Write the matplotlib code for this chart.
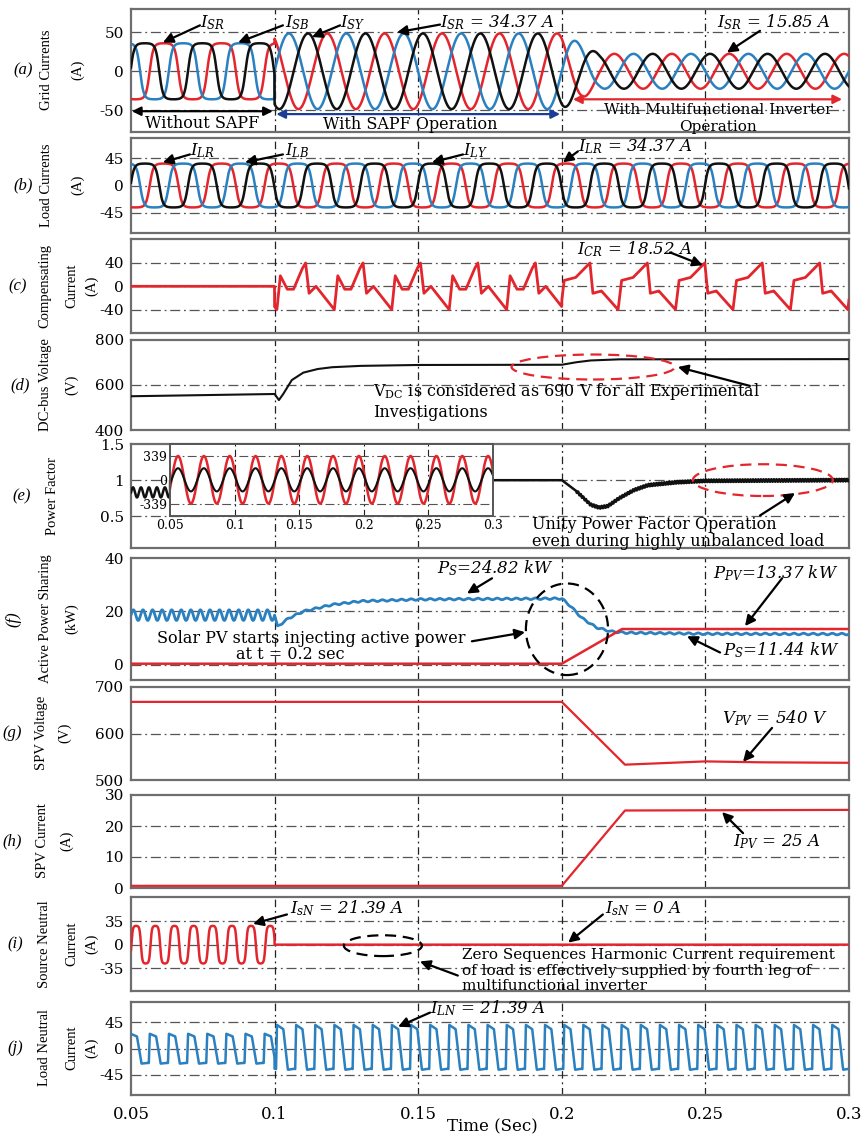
import numpy as np
import matplotlib
matplotlib.use('Agg')
import matplotlib.pyplot as plt
from matplotlib.patches import Ellipse

plt.rcParams['font.family'] = ['DejaVu Serif']
plt.rcParams['mathtext.fontset'] = 'custom'
plt.rcParams['mathtext.rm'] = 'DejaVu Serif'
plt.rcParams['mathtext.it'] = 'DejaVu Serif:italic'
plt.rcParams['mathtext.default'] = 'it'
plt.rcParams['axes.unicode_minus'] = False

RED = '#e3262d'
BLUE = '#2b80c0'
BLACK = '#111111'
NAVY = '#1c3d96'

# ---- data ----
t_start, t_end = 0.05, 0.3
f_grid = 50.0
x_ticks = [0.05, 0.1, 0.15, 0.2, 0.25, 0.3]
x_ticklabels = ['0.05', '0.1', '0.15', '0.2', '0.25', '0.3']
v_lines = [0.1, 0.15, 0.2, 0.25]

# (a), (b) phase currents
load_peak = 36.0
load_R_peak_time = 0.0615
grid_sapf_peak = 48.6          # 34.37 A rms
grid_R_peak_time = 0.1983
grid_env_t = [0.2, 0.213]
grid_env_v = [48.6, 22.4]      # 15.85 A rms after 0.2 s

# (c) compensating current, one-cycle templates
comp_t0_sapf = 0.1108
comp_frac_sapf = [0, 0.06, 0.18, 0.26, 0.5, 0.56, 0.68, 0.79, 0.94, 1.0]
comp_val_sapf = [40, -12, 0, -10, -40, 18, -5, -5, 30, 40]
comp_t0_inv = 0.2098
comp_frac_inv = [0, 0.05, 0.2, 0.49, 0.55, 0.75, 1.0]
comp_val_inv = [40, -12, -8, -40, 10, 15, 40]

# (d) DC-bus voltage
vdc_t = [0.05, 0.1, 0.1015, 0.103, 0.106, 0.11, 0.115, 0.12, 0.13, 0.15, 0.2, 0.205, 0.21, 0.22, 0.3]
vdc_v = [550, 560, 533, 560, 622, 655, 671, 679, 685, 689, 690, 701, 709, 714, 715]

# (e) power factor
pf_pre_level, pf_pre_ripple, pf_pre_freq = 0.83, 0.07, 360.0
pf_t = [0.05, 0.2, 0.205, 0.21, 0.213, 0.216, 0.22, 0.225, 0.23, 0.24, 0.25, 0.3]
pf_v = [1.0, 1.0, 0.85, 0.66, 0.62, 0.64, 0.75, 0.86, 0.93, 0.97, 0.99, 1.0]
pf_noise_amp = 0.018
inset_v_peak = 339.0
inset_i_peak = 165.0
inset_peak_time = 0.0562

# (f) active power sharing (kW)
ps_pre_level, ps_pre_ripple, ps_ripple_freq = 18.6, 2.0, 300.0
ps_t = [0.1, 0.101, 0.105, 0.11, 0.12, 0.13, 0.15, 0.2, 0.203, 0.207, 0.212, 0.217, 0.222, 0.25, 0.3]
ps_v = [18.6, 14.3, 17.5, 20.0, 22.5, 23.8, 24.5, 24.8, 22.0, 17.5, 14.0, 12.5, 12.0, 11.6, 11.5]
ppv_t = [0.05, 0.2, 0.221, 0.3]
ppv_v = [0.4, 0.4, 13.4, 13.4]

# (g) SPV voltage, (h) SPV current
vpv_t = [0.05, 0.2, 0.222, 0.25, 0.27, 0.3]
vpv_v = [668, 668, 533, 540, 538, 537]
ipv_t = [0.05, 0.2, 0.222, 0.3]
ipv_v = [0.7, 0.7, 25.0, 25.2]

# (i), (j) neutral currents
isn_peak, isn_peak_time = 28.0, 0.0518
iln_frac = [0, 0.05, 0.38, 0.62, 0.97, 1.0]
iln_val = [-0.92, 1.0, 0.82, -0.95, -0.9, -0.92]
iln_t0 = [0.0562, 0.1005]
iln_pos = [25.0, 40.0]
iln_neg = [27.0, 38.0]

# ---- signals ----
t = np.linspace(t_start, t_end, 6001)
w = 2 * np.pi * f_grid


def tile(tt, t0, period, frac, vals):
    return np.interp(((tt - t0) / period) % 1.0, frac, vals)


def flat(theta, k=2.5):
    return np.tanh(k * np.cos(theta)) / np.tanh(k)


th_L = w * (t - load_R_peak_time)
iL = {'R': load_peak * flat(th_L),
      'B': load_peak * flat(th_L - 2 * np.pi / 3),
      'Y': load_peak * flat(th_L - 4 * np.pi / 3)}

th_G = w * (t - grid_R_peak_time)
amp = np.where(t < 0.2, grid_sapf_peak, np.interp(t, grid_env_t, grid_env_v))
iS = {}
for k, sh in zip(['R', 'Y', 'B'], [0, 2 * np.pi / 3, 4 * np.pi / 3]):
    iS[k] = np.where(t < 0.1, iL[k], amp * np.cos(th_G + sh))

ic = np.where(t < 0.1, 0.0,
              np.where(t < 0.2, tile(t, comp_t0_sapf, 0.02, comp_frac_sapf, comp_val_sapf),
                       tile(t, comp_t0_inv, 0.02, comp_frac_inv, comp_val_inv)))

pf = np.where(t < 0.0636, pf_pre_level + pf_pre_ripple * np.sin(2 * np.pi * pf_pre_freq * t),
              np.interp(t, pf_t, pf_v))
pf = pf + np.where(t > 0.205, pf_noise_amp * np.sin(2 * np.pi * 1100 * t), 0)

ps = np.where(t < 0.1, ps_pre_level + ps_pre_ripple * np.sin(2 * np.pi * ps_ripple_freq * t),
              np.interp(t, ps_t, ps_v) + 0.3 * np.sin(2 * np.pi * ps_ripple_freq * t))

isn = np.where(t < 0.1, isn_peak * flat(3 * w * (t - isn_peak_time), 2.2), 0.0)

raw_j = np.where(t < 0.1, tile(t, iln_t0[0], 1 / 150, iln_frac, iln_val),
                 tile(t, iln_t0[1], 1 / 150, iln_frac, iln_val))
pos = np.where(t < 0.1, iln_pos[0], iln_pos[1])
neg = np.where(t < 0.1, iln_neg[0], iln_neg[1])
iln = np.where(raw_j > 0, raw_j * pos, raw_j * neg)

# ---- figure ----
FW, FH = 868, 1136
fig = plt.figure(figsize=(FW / 100, FH / 100), dpi=100)
fig.patch.set_facecolor('white')
L, R = 131, 849
NOTE_FS = 11.5
LBL_FS = 12


def panel(top, bottom, ylim, yticks, hgrid):
    ax = fig.add_axes([L / FW, 1 - bottom / FH, (R - L) / FW, (bottom - top) / FH])
    ax.set_xlim(t_start, t_end)
    ax.set_ylim(*ylim)
    ax.set_yticks(yticks)
    ax.set_yticklabels([f'{v:g}' for v in yticks])
    ax.set_xticks(x_ticks)
    ax.set_xticklabels([])
    ax.tick_params(length=0, labelsize=11, pad=5)
    for s in ax.spines.values():
        s.set_color('#6e6e6e')
        s.set_linewidth(1.6)
    for y in hgrid:
        ax.axhline(y, color='#555555', lw=0.9, ls=(0, (8, 3, 1.5, 3)), zorder=1)
    for x in v_lines:
        ax.axvline(x, color='#222222', lw=0.9, ls=(0, (6, 3, 1.5, 3)), zorder=1)
    return ax


def note(ax, text, pos, tail, head, fs=LBL_FS, style='italic'):
    ax.text(pos[0], pos[1], text, fontsize=fs, ha='left', va='center', style=style, zorder=8)
    ax.annotate('', xy=head, xytext=tail,
                arrowprops=dict(arrowstyle='-|>', color='k', lw=1.6, mutation_scale=15,
                                shrinkA=0, shrinkB=0), zorder=8)


def arrow(ax, tail, head):
    ax.annotate('', xy=head, xytext=tail,
                arrowprops=dict(arrowstyle='-|>', color='k', lw=1.6, mutation_scale=15,
                                shrinkA=0, shrinkB=0), zorder=8)


def ylab(center, letter, lx, lines, rot_letter=False):
    yc = 1 - center / FH
    fig.text(lx / FW, yc, letter, fontsize=12, style='italic', ha='center', va='center',
             rotation=90 if rot_letter else 0, family='Liberation Serif')
    for txt, x in lines:
        fig.text(x / FW, yc, txt, fontsize=10.5, ha='center', va='center', rotation=90,
                 family='Liberation Serif')


# (a) grid currents
ax = panel(9, 132, (-78, 80), [-50, 0, 50], [-50, 0, 50])
ax.plot(t, iS['R'], color=RED, lw=1.8, zorder=3)
ax.plot(t, iS['B'], color=BLUE, lw=1.8, zorder=3)
ax.plot(t, iS['Y'], color=BLACK, lw=1.8, zorder=4)
note(ax, r'$I_{SR}$', (0.074, 63), (0.074, 59), (0.0611, 37))
note(ax, r'$I_{SB}$', (0.1035, 63), (0.1029, 59), (0.0873, 37))
note(ax, r'$I_{SY}$', (0.1228, 63), (0.1228, 59), (0.1130, 44))
note(ax, r'$I_{SR}$ = 34.37 A', (0.1576, 63), (0.1576, 60), (0.1426, 50))
note(ax, r'$I_{SR}$ = 15.85 A', (0.254, 63), (0.269, 52), (0.2575, 24))
arr = dict(arrowstyle='<|-|>', lw=1.6, mutation_scale=13, shrinkA=0, shrinkB=0)
ax.annotate('', xy=(0.0503, -51.3), xytext=(0.0994, -51.3), arrowprops=dict(color='k', **arr))
ax.annotate('', xy=(0.1006, -55), xytext=(0.1994, -55), arrowprops=dict(color=NAVY, **arr))
ax.annotate('', xy=(0.2039, -36), xytext=(0.2976, -36), arrowprops=dict(color=RED, **arr))
ax.text(0.0747, -67, 'Without SAPF', fontsize=NOTE_FS, ha='center', va='center')
ax.text(0.1471, -69, 'With SAPF Operation', fontsize=NOTE_FS, ha='center', va='center')
ax.text(0.2544, -49.5, 'With Multifunctional Inverter', fontsize=11, ha='center', va='center')
ax.text(0.2544, -71, 'Operation', fontsize=11, ha='center', va='center')
ylab(70, '(a)', 23, [('Grid Currents', 47), ('(A)', 78)])

# (b) load currents
ax = panel(138, 233, (-78, 78), [-45, 0, 45], [-45, 0, 45])
ax.plot(t, iL['R'], color=RED, lw=1.8, zorder=3)
ax.plot(t, iL['B'], color=BLUE, lw=1.8, zorder=3)
ax.plot(t, iL['Y'], color=BLACK, lw=1.8, zorder=4)
note(ax, r'$I_{LR}$', (0.0705, 57), (0.0705, 51), (0.0611, 38))
note(ax, r'$I_{LB}$', (0.1035, 57), (0.1029, 51), (0.0897, 38))
note(ax, r'$I_{LY}$', (0.1656, 57), (0.1656, 51), (0.1548, 38))
note(ax, r'$I_{LR}$ = 34.37 A', (0.2056, 64), (0.2056, 56), (0.2004, 38))
ylab(185, '(b)', 23, [('Load Currents', 47), ('(A)', 78)])

# (c) compensating current
ax = panel(239, 333, (-80, 81), [-40, 0, 40], [-40, 0, 40])
ax.plot(t, ic, color=RED, lw=2.0, zorder=3)
note(ax, r'$I_{CR}$ = 18.52 A', (0.2053, 64), (0.2377, 58), (0.2491, 36))
ylab(286, '(c)', 18, [('Compensating', 45), ('Current', 72), ('(A)', 92)])

# (d) DC-bus voltage
ax = panel(340, 430, (400, 800), [400, 600, 800], [600])
ax.plot(vdc_t, vdc_v, color=BLACK, lw=1.5, zorder=3)
ax.add_patch(Ellipse((0.2109, 680), 0.0568, 111, fill=False, ls=(0, (5, 3)), ec=RED, lw=1.6, zorder=5))
arrow(ax, (0.2655, 596), (0.2404, 680))
ax.text(0.1343, 569, r'V$_{\mathrm{DC}}$ is considered as 690 V for all Experimental',
        fontsize=NOTE_FS, va='center')
ax.text(0.1343, 476, 'Investigations', fontsize=NOTE_FS, va='center')
ylab(385, '(d)', 20, [('DC-bus Voltage', 45), ('(V)', 72)])

# (e) power factor
ax = panel(444, 548, (0.06, 1.5), [0.5, 1, 1.5], [0.5, 1])
ax.plot(t, pf, color=BLACK, lw=1.8, zorder=3)
ax.add_patch(Ellipse((0.27, 1.0), 0.0487, 0.44, fill=False, ls=(0, (5, 3)), ec=RED, lw=1.6, zorder=5))
arrow(ax, (0.269, 0.51), (0.2812, 0.82))
ax.text(0.1896, 0.39, 'Unity Power Factor Operation', fontsize=NOTE_FS, va='center')
ax.text(0.1896, 0.155, 'even during highly unbalanced load', fontsize=NOTE_FS, va='center')
ylab(496, '(e)', 22, [('Power Factor', 52)])

ins = fig.add_axes([170 / FW, 1 - 516 / FH, 323 / FW, 72 / FH])
ins.set_xlim(t_start, t_end)
ins.set_ylim(-515, 510)
ins.set_yticks([-339, 0, 339])
ins.set_yticklabels(['-339', '0', '339'])
ins.set_xticks(x_ticks)
ins.set_xticklabels(x_ticklabels)
ins.tick_params(length=0, labelsize=9, pad=2)
for s in ins.spines.values():
    s.set_color('#555555')
    s.set_linewidth(1.4)
for y in [-339, 339]:
    ins.axhline(y, color='#555555', lw=0.8, ls=(0, (8, 3, 1.5, 3)))
for x in v_lines:
    ins.axvline(x, color='#222222', lw=0.8, ls=(0, (6, 3, 1.5, 3)))
th_i = w * (t - inset_peak_time)
ins.plot(t, inset_v_peak * np.cos(th_i), color=RED, lw=1.8)
ins.plot(t, inset_i_peak * np.cos(th_i), color=BLACK, lw=1.5)

# (f) active power sharing
ax = panel(558, 680, (-5.7, 40), [0, 20, 40], [0, 20])
ax.plot(t, ps, color=BLUE, lw=2.0, zorder=3)
ax.plot(ppv_t, ppv_v, color=RED, lw=1.8, zorder=4)
note(ax, r'$P_{S}$=24.82 kW', (0.1565, 36.2), (0.1757, 32.4), (0.167, 26.7))
note(ax, r'$P_{PV}$=13.37 kW', (0.2527, 34.3), (0.2767, 32.4), (0.2638, 14.5))
note(ax, r'$P_{S}$=11.44 kW', (0.2561, 5.4), (0.2551, 4.6), (0.2436, 10.7))
ax.add_patch(Ellipse((0.2018, 13.3), 0.0286, 34.3, fill=False, ls=(0, (5, 3)), ec='k', lw=1.6, zorder=5))
arrow(ax, (0.1687, 8.8), (0.1872, 12.2))
ax.text(0.059, 9.9, 'Solar PV starts injecting active power', fontsize=NOTE_FS, va='center')
ax.text(0.1054, 3.8, 'at t = 0.2 sec', fontsize=NOTE_FS, va='center', ha='center')
ylab(619, '(f)', 13, [('Active Power Sharing', 45), ('(kW)', 72)], rot_letter=True)

# (g) SPV voltage
ax = panel(687, 780, (500, 700), [500, 600, 700], [600])
ax.plot(vpv_t, vpv_v, color=RED, lw=1.6, zorder=3)
note(ax, r'$V_{PV}$ = 540 V', (0.2558, 633), (0.2732, 612), (0.2631, 539))
ylab(733, '(g)', 12, [('SPV Voltage', 42), ('(V)', 65)])

# (h) SPV current
ax = panel(795, 888, (0, 30), [0, 10, 20, 30], [10, 20])
ax.plot(ipv_t, ipv_v, color=RED, lw=1.6, zorder=3)
note(ax, r'$I_{PV}$ = 25 A', (0.2596, 14.8), (0.2631, 17.7), (0.2558, 24.5))
ylab(841, '(h)', 12, [('SPV Current', 43), ('(A)', 67)])

# (i) source neutral current
ax = panel(897, 991, (-69, 71), [-35, 0, 35], [-35, 0, 35])
ax.plot(t, isn, color=RED, lw=1.8, zorder=3)
note(ax, r'$I_{sN}$ = 21.39 A', (0.1054, 55), (0.1043, 45), (0.0925, 31))
note(ax, r'$I_{sN}$ = 0 A', (0.215, 53), (0.2143, 45), (0.2022, 3))
ax.add_patch(Ellipse((0.1377, -1.5), 0.0272, 31, fill=False, ls=(0, (5, 3)), ec='k', lw=1.6, zorder=5))
arrow(ax, (0.1638, -46), (0.1506, -25))
ax.text(0.1652, -15, 'Zero Sequences Harmonic Current requirement', fontsize=11, va='center')
ax.text(0.1652, -39, 'of load is effectively supplied by fourth leg of', fontsize=11, va='center')
ax.text(0.1652, -62, 'multifunctional inverter', fontsize=11, va='center')
ylab(944, '(i)', 15, [('Source Neutral', 45), ('Current', 72), ('(A)', 92)])

# (j) load neutral current
ax = panel(1002, 1095, (-79, 79), [-45, 0, 45], [-45, 0, 45])
ax.plot(t, iln, color=BLUE, lw=1.8, zorder=3)
note(ax, r'$I_{LN}$ = 21.39 A', (0.1541, 68), (0.1541, 61), (0.143, 37))
ax.set_xticklabels(x_ticklabels)
ax.tick_params(axis='x', labelsize=12, pad=8)
ylab(1048, '(j)', 15, [('Load Neutral', 45), ('Current', 72), ('(A)', 92)])
fig.text(492 / FW, 1 - 1127 / FH, 'Time (Sec)', fontsize=12, ha='center', va='center')

fig.savefig('out.png', dpi=100)
